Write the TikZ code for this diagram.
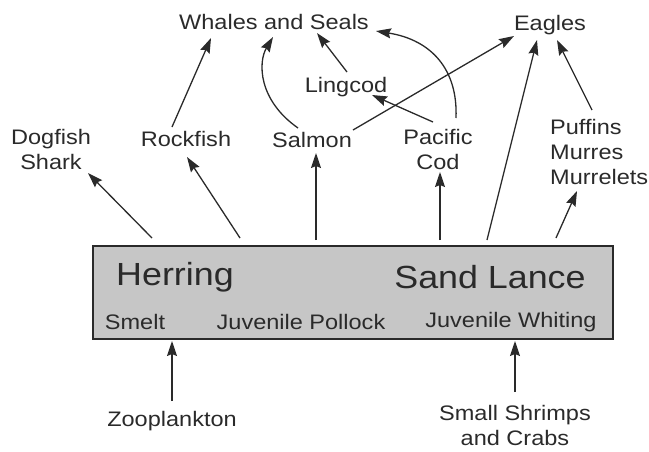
\documentclass[tikz,border=0pt]{standalone}
\usepackage{fontspec}
\setmainfont{Liberation Sans}[FakeStretch=1.12]
\usetikzlibrary{arrows.meta}
\definecolor{ink}{HTML}{2A2A2A}
\definecolor{boxfill}{HTML}{C6C6C6}
\begin{document}
\begin{tikzpicture}[x=1pt,y=-1pt,
  lbl/.style={font=\fontsize{21}{25}\selectfont, text=ink, inner sep=0pt, align=center},
  big/.style={font=\fontsize{32}{36}\selectfont, text=ink, inner sep=0pt},
  arr/.style={draw=ink, line width=1.3pt, -{Stealth[length=15pt,width=10pt,inset=2pt]}},
  foodbox/.style={draw=ink, fill=boxfill, line width=1.3pt, minimum width=520pt, minimum height=93pt, inner sep=0pt}]
\useasboundingbox (0,0) rectangle (649,451);
% central box
\node[foodbox] (box) at (353,292.5) {};
\node[big] (herring) at (175,277) {Herring};
\node[big] (sand) at (490,277) {Sand Lance};
\node[lbl] (smelt) at (135,322) {Smelt};
\node[lbl] (pollock) at (301,322) {Juvenile Pollock};
\node[lbl] (whiting) at (511,322) {Juvenile Whiting};
% other nodes
\node[lbl] (zoo) at (172,421) {Zooplankton};
\node[lbl] (shrimp) at (515,425) {Small Shrimps\\and Crabs};
\node[lbl] (dog) at (51,149) {Dogfish\\Shark};
\node[lbl] (rock) at (186,139) {Rockfish};
\node[lbl] (salmon) at (312,140) {Salmon};
\node[lbl] (cod) at (438,149) {Pacific\\Cod};
\node[lbl, align=left, anchor=west] (puff) at (550,152) {Puffins\\Murres\\Murrelets};
\node[lbl] (whales) at (274,22) {Whales and Seals};
\node[lbl] (ling) at (346,87) {Lingcod};
\node[lbl] (eagles) at (550,25) {Eagles};
% connector end points
\coordinate (zooT) at (172,401);
\coordinate (zooH) at (172,341);
\coordinate (shrT) at (515,392);
\coordinate (shrH) at (515,341);
\coordinate (bDog) at (152,238);
\coordinate (hDog) at (88,173);
\coordinate (bRock) at (240,238);
\coordinate (hRock) at (187,157);
\coordinate (bSal) at (316,240);
\coordinate (hSal) at (316,153);
\coordinate (bCod) at (440,240);
\coordinate (hCod) at (440,172);
\coordinate (bEag) at (487,240);
\coordinate (hEag) at (537,40);
\coordinate (bPuf) at (556,238);
\coordinate (hPuf) at (577,191);
\coordinate (tRock) at (172,127);
\coordinate (hWr) at (211,38);
\coordinate (tSal) at (298,128);
\coordinate (hWs) at (273,37);
\coordinate (tSalE) at (353,130);
\coordinate (hEs) at (514,36);
\coordinate (tLing) at (347,72);
\coordinate (hWl) at (317,33);
\coordinate (tCodL) at (433,122);
\coordinate (hLc) at (372,95);
\coordinate (tCodW) at (456,118);
\coordinate (hWc) at (376,31);
\coordinate (tPuf) at (592,110);
\coordinate (hEp) at (557,40);
% connectors
\draw[arr] (zooT) -- (zooH);
\draw[arr] (shrT) -- (shrH);
\draw[arr] (bDog) -- (hDog);
\draw[arr] (bRock) -- (hRock);
\draw[arr] (bSal) -- (hSal);
\draw[arr] (bCod) -- (hCod);
\draw[arr] (bEag) -- (hEag);
\draw[arr] (bPuf) -- (hPuf);
\draw[arr] (tRock) -- (hWr);
\draw[arr] (tSal) .. controls (258,100) and (258,62) .. (hWs);
\draw[arr] (tSalE) -- (hEs);
\draw[arr] (tLing) -- (hWl);
\draw[arr] (tCodL) -- (hLc);
\draw[arr] (tCodW) .. controls (458,70) and (432,40) .. (hWc);
\draw[arr] (tPuf) -- (hEp);
\end{tikzpicture}
\end{document}
